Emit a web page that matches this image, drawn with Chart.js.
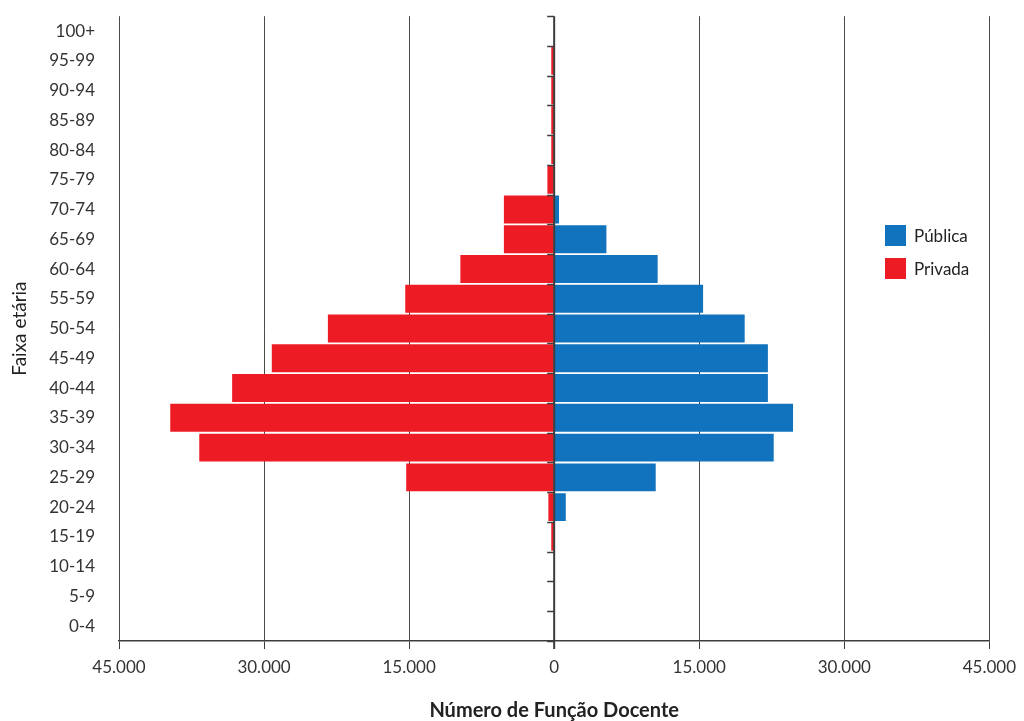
<!DOCTYPE html>
<html lang="pt">
<head>
    <meta charset="UTF-8">
    <title>Faixa etária - Função Docente</title>
    <script src="https://cdn.jsdelivr.net/npm/chart.js"></script>
    <style>
        body { margin: 0; background: #fff; font-family: Lato, sans-serif; }
        #wrap { position: relative; width: 1024px; height: 721px; }
        #legend { position: absolute; left: 885px; top: 225px; font-size: 17px; color: #222; }
        #legend div { display: flex; align-items: center; height: 21px; margin-bottom: 12px; }
        #legend span.box { width: 21px; height: 21px; margin-right: 8px; display: inline-block; }
    </style>
</head>
<body>
    <div id="wrap">
        <canvas id="pyramid"></canvas>
        <div id="legend"></div>
    </div>

    <script>
        // age groups, bottom to top
        const ages = ['0-4', '5-9', '10-14', '15-19', '20-24', '25-29', '30-34', '35-39', '40-44', '45-49',
            '50-54', '55-59', '60-64', '65-69', '70-74', '75-79', '80-84', '85-89', '90-94', '95-99', '100+'];

        const publica = [0, 0, 0, 0, 1200, 10500, 22700, 24700, 22100, 22100,
            19700, 15400, 10700, 5400, 500, 0, 0, 0, 0, 0, 0];

        const privada = [0, 0, 0, 300, 600, 15300, 36700, 39700, 33300, 29200,
            23400, 15400, 9700, 5200, 5200, 700, 300, 300, 300, 300, 0];

        const xTicks = [-45000, -30000, -15000, 0, 15000, 30000, 45000];

        const BLUE = '#1172bd';
        const RED = '#ed1c24';
        const LINE = '#3c3c3c';

        function fmt(v) {
            return String(Math.abs(v)).replace(/\B(?=(\d{3})+(?!\d))/g, '.');
        }

        // center axis with small ticks at the category boundaries
        const centerAxis = {
            id: 'centerAxis',
            afterDatasetsDraw(chart) {
                const x = chart.scales.x, y = chart.scales.y, ctx = chart.ctx;
                const x0 = x.getPixelForValue(0);
                ctx.save();
                ctx.strokeStyle = LINE;
                ctx.lineWidth = 2;
                ctx.beginPath();
                ctx.moveTo(x0, chart.chartArea.top);
                ctx.lineTo(x0, chart.chartArea.bottom + 8);
                ctx.stroke();
                ctx.lineWidth = 1.5;
                for (let i = 0; i <= ages.length; i++) {
                    const py = Math.round(y.getPixelForValue(i - 0.5)) + 0.5;
                    ctx.beginPath();
                    ctx.moveTo(x0 - 7, py);
                    ctx.lineTo(x0, py);
                    ctx.stroke();
                }
                ctx.restore();
            }
        };

        new Chart(document.getElementById('pyramid'), {
            type: 'bar',
            data: {
                labels: ages,
                datasets: [{
                    label: 'Pública',
                    data: publica,
                    backgroundColor: BLUE,
                    barPercentage: 0.94,
                    categoryPercentage: 1.0
                }, {
                    label: 'Privada',
                    data: privada.map(v => -v),
                    backgroundColor: RED,
                    barPercentage: 0.94,
                    categoryPercentage: 1.0
                }]
            },
            options: {
                indexAxis: 'y',
                responsive: true,
                maintainAspectRatio: false,
                animation: false,
                layout: { padding: { top: 16, right: 33, left: 0, bottom: 0 } },
                plugins: {
                    legend: { display: false },
                    tooltip: { enabled: false }
                },
                scales: {
                    x: {
                        stacked: true,
                        min: -45000,
                        max: 45000,
                        afterBuildTicks(scale) {
                            scale.ticks = xTicks.map(v => ({ value: v }));
                        },
                        afterFit(scale) { scale.height = 80; },
                        grid: {
                            color: ctx => ctx.tick && ctx.tick.value === 0 ? 'rgba(0,0,0,0)' : '#4a4a4a',
                            lineWidth: 1,
                            tickColor: LINE,
                            tickLength: 8
                        },
                        border: { color: LINE, width: 1.5 },
                        ticks: {
                            callback: v => fmt(v),
                            color: '#333',
                            padding: 8,
                            maxRotation: 0,
                            font: { family: 'Lato', size: 17 }
                        },
                        title: {
                            display: true,
                            text: 'Número de Função Docente',
                            color: '#222',
                            padding: { top: 0, bottom: 0 },
                            font: { family: 'Lato', size: 20, weight: 'bold', lineHeight: 1.0 }
                        }
                    },
                    y: {
                        stacked: true,
                        reverse: true,
                        afterFit(scale) { scale.width = 119; },
                        grid: { display: false, drawTicks: true, tickLength: 18 },
                        border: { display: false },
                        ticks: {
                            color: '#333',
                            padding: 6,
                            font: { family: 'Lato', size: 17 }
                        },
                        title: {
                            display: true,
                            text: 'Faixa etária',
                            color: '#222',
                            padding: { top: 8, bottom: 0 },
                            font: { family: 'Lato', size: 19 }
                        }
                    }
                }
            },
            plugins: [centerAxis]
        });

        // legend
        const legend = document.getElementById('legend');
        [['Pública', BLUE], ['Privada', RED]].forEach(([name, color]) => {
            legend.innerHTML += `<div><span class="box" style="background:${color}"></span>${name}</div>`;
        });
    </script>
</body>
</html>
